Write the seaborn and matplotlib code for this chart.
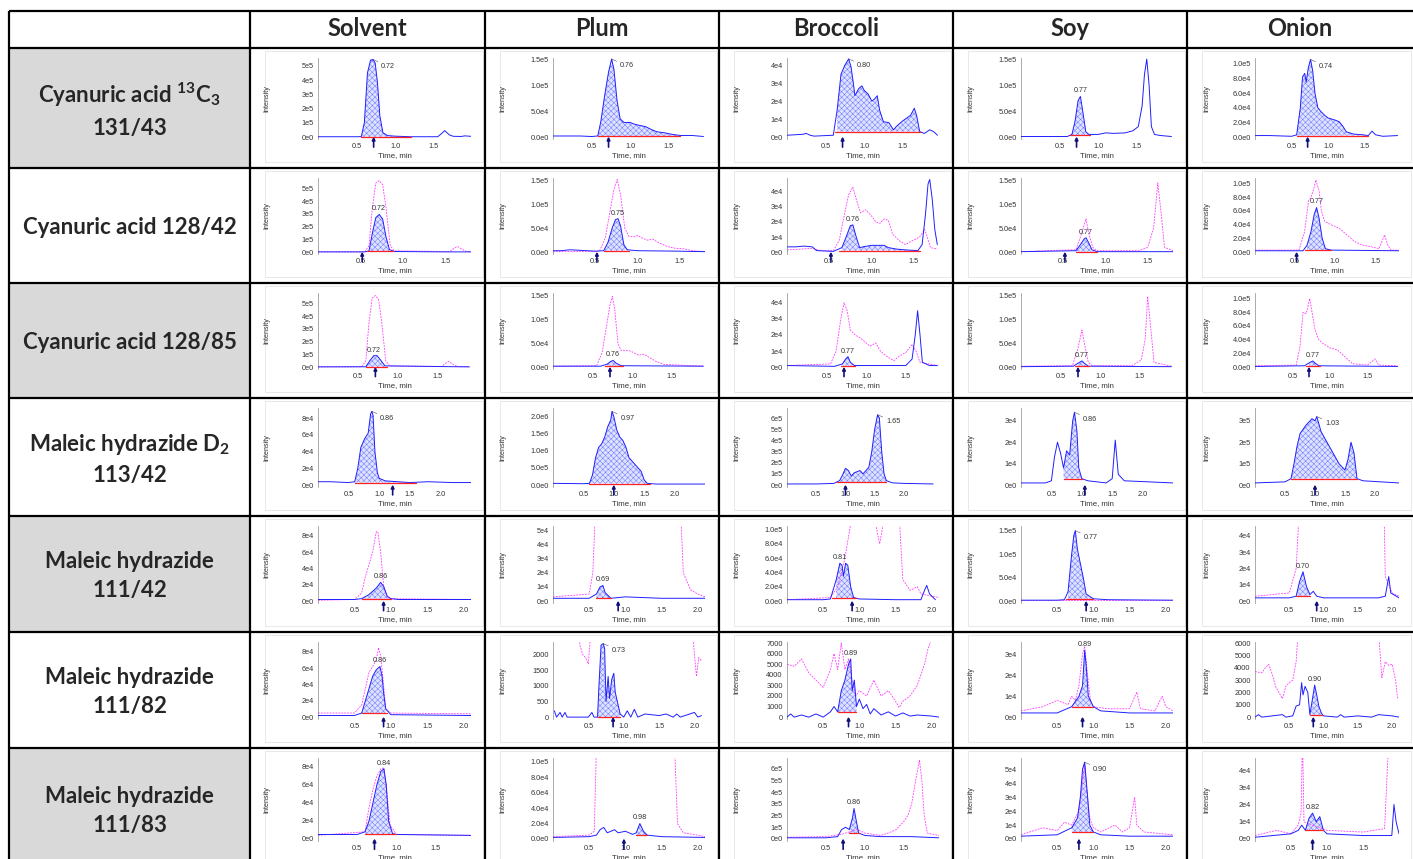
import numpy as np
import pandas as pd
import matplotlib
matplotlib.use("Agg")
import matplotlib.pyplot as plt
import matplotlib.transforms as mtransforms
from matplotlib.patches import Rectangle
import seaborn as sns

sns.set_style("white")
plt.rcParams["font.family"] = ["Liberation Sans", "DejaVu Sans"]
plt.rcParams["mathtext.fontset"] = "custom"
plt.rcParams["mathtext.rm"] = "Lato:bold"
plt.rcParams["mathtext.it"] = "Lato:bold"
plt.rcParams["mathtext.bf"] = "Lato:bold"
plt.rcParams["hatch.linewidth"] = 0.35

W, H = 1413, 859

MATRICES = ["Solvent", "Plum", "Broccoli", "Soy", "Onion"]
COMPOUNDS = [
    "Cyanuric acid $^{13}$C$_3$\n131/43",
    "Cyanuric acid 128/42",
    "Cyanuric acid 128/85",
    "Maleic hydrazide D$_2$\n113/42",
    "Maleic hydrazide\n111/42",
    "Maleic hydrazide\n111/82",
    "Maleic hydrazide\n111/83",
]

# y tick label sets (tick positions are the label values)
E5_5 = ["0e0", "1e5", "2e5", "3e5", "4e5", "5e5"]
E5_15 = ["0.0e0", "5.0e4", "1.0e5", "1.5e5"]
E4_4 = ["0e0", "1e4", "2e4", "3e4", "4e4"]
E4_10 = ["0.0e0", "2.0e4", "4.0e4", "6.0e4", "8.0e4", "1.0e5"]
E4_8 = ["0e0", "2e4", "4e4", "6e4", "8e4"]
E6_2 = ["0.0e0", "5.0e5", "1.0e6", "1.5e6", "2.0e6"]
E5_6 = ["0e0", "1e5", "2e5", "3e5", "4e5", "5e5", "6e5"]
E4_3 = ["0e0", "1e4", "2e4", "3e4"]
E5_3 = ["0e0", "1e5", "2e5", "3e5"]
E4_5 = ["0e0", "1e4", "2e4", "3e4", "4e4", "5e4"]
N2000 = ["0", "500", "1000", "1500", "2000"]
N7000 = ["0", "1000", "2000", "3000", "4000", "5000", "6000", "7000"]
N6000 = ["0", "1000", "2000", "3000", "4000", "5000", "6000"]

YLABELS = [
    [E5_5, E5_15, E4_4, E5_15, E4_10],
    [E5_5, E5_15, E4_4, E5_15, E4_10],
    [E5_5, E5_15, E4_4, E5_15, E4_10],
    [E4_8, E6_2, E5_6, E4_3, E5_3],
    [E4_8, E4_5, E4_10, E5_15, E4_4],
    [E4_8, N2000, N7000, E4_3, N6000],
    [E4_8, E4_10, E5_6, E4_5, E4_4],
]
YTOP = [
    [5.55e5, 1.52e5, 4.4e4, 1.52e5, 1.08e5],
    [5.8e5, 1.55e5, 4.9e4, 1.55e5, 1.08e5],
    [5.8e5, 1.55e5, 4.6e4, 1.55e5, 1.08e5],
    [9.2e4, 2.25e6, 6.9e5, 3.6e4, 3.6e5],
    [9.2e4, 5.3e4, 1.05e5, 1.6e5, 4.6e4],
    [9.2e4, 2400, 7100, 3.6e4, 6100],
    [9.0e4, 1.05e5, 6.9e5, 5.8e4, 4.7e4],
]
# multiplier for the trace values below
UNIT = [
    [1e5, 1e4, 1e4, 1e4, 1e4],
    [1e5, 1e4, 1e4, 1e4, 1e4],
    [1e5, 1e4, 1e4, 1e4, 1e4],
    [1e4, 1e5, 1e5, 1e4, 1e5],
    [1e4, 1e4, 1e4, 1e4, 1e4],
    [1e4, 1, 1, 1e4, 1],
    [1e4, 1e4, 1e5, 1e4, 1e4],
]
XMAX = [
    [1.98, 1.97, 1.97, 1.97, 1.97],
    [1.8, 1.8, 1.8, 1.8, 1.8],
    [1.92, 1.92, 1.92, 1.92, 1.92],
    [2.5, 2.5, 2.6, 2.5, 2.4],
    [2.1, 2.1, 2.1, 2.1, 2.1],
    [2.1, 2.15, 2.1, 2.1, 2.1],
    [1.95, 2.1, 1.95, 2.1, 2.0],
]
# integration window start, end, retention time label, label placement
PEAKS = [
    [(0.56, 1.2, "0.72", "r"), (0.58, 1.65, "0.76", "r"), (0.62, 1.72, "0.80", "r"),
     (0.64, 0.9, "0.77", "u"), (0.57, 1.55, "0.74", "r")],
    [(0.58, 0.88, "0.72", "u"), (0.6, 0.9, "0.75", "u"), (0.62, 1.58, "0.76", "u"),
     (0.65, 0.9, "0.77", "u"), (0.62, 0.95, "0.77", "u")],
    [(0.6, 0.86, "0.72", "u"), (0.66, 0.88, "0.76", "u"), (0.68, 0.86, "0.77", "u"),
     (0.68, 0.86, "0.77", "u"), (0.68, 0.86, "0.77", "u")],
    [(0.6, 1.6, "0.86", "r"), (0.6, 1.6, "0.97", "r"), (0.85, 1.7, "1.65", "r"),
     (0.7, 1.0, "0.86", "r"), (0.6, 1.7, "1.03", "r")],
    [(0.6, 1.0, "0.86", "u"), (0.6, 0.8, "0.69", "u"), (0.62, 0.95, "0.81", "u"),
     (0.62, 1.0, "0.77", "r"), (0.6, 0.8, "0.70", "u")],
    [(0.6, 0.95, "0.86", "u"), (0.63, 0.95, "0.73", "r"), (0.7, 0.96, "0.89", "u"),
     (0.7, 1.0, "0.89", "u"), (0.8, 0.97, "0.90", "u")],
    [(0.6, 1.0, "0.84", "u"), (1.15, 1.3, "0.98", "u"), (0.8, 0.92, "0.86", "u"),
     (0.7, 1.0, "0.90", "r"), (0.7, 0.95, "0.82", "u")],
]
ARROWS = [
    [0.72, 0.72, 0.72, 0.72, 0.72],
    [0.52, 0.52, 0.52, 0.52, 0.52],
    [0.72, 0.72, 0.72, 0.72, 0.72],
    [1.22, 1.0, 1.0, 1.05, 1.0],
    [0.9, 0.9, 0.9, 0.9, 0.9],
    [0.9, 0.85, 0.85, 0.85, 0.85],
    [0.72, 0.98, 0.72, 0.8, 0.8],
]

# ---- traces (time, intensity / UNIT) ----
BLUE_1 = {
    "Solvent": [(0, .02), (.5, .02), (.56, .03), (.6, 1.0), (.64, 4.5), (.68, 5.4), (.71, 5.45), (.74, 5.2),
                (.77, 3.8), (.8, 1.5), (.84, .3), (.9, .1), (1.0, .06), (1.2, .02), (1.55, .02), (1.6, .25),
                (1.64, .45), (1.7, .15), (1.75, .05), (1.85, .04), (1.9, .08), (1.98, .05)],
    "Plum": [(0, .2), (.35, .2), (.5, .1), (.58, .2), (.62, 3), (.67, 8), (.72, 12.5), (.76, 15), (.79, 13),
             (.83, 7), (.87, 3.5), (.92, 2.8), (1.0, 2.8), (1.05, 2.5), (1.1, 2.3), (1.2, 2.0), (1.28, 1.4),
             (1.35, 1.0), (1.45, .8), (1.55, .5), (1.65, .3), (1.8, .3), (1.95, .1)],
    "Broccoli": [(0, .1), (.2, .15), (.25, .2), (.3, .1), (.35, .05), (.6, .1), (.65, 1.5), (.7, 3.5), (.75, 4.0),
                 (.8, 4.35), (.83, 3.9), (.86, 3.0), (.88, 2.3), (.93, 2.7), (.97, 2.85), (1.0, 2.6),
                 (1.05, 2.4), (1.1, 2.0), (1.13, 2.1), (1.17, 2.3), (1.2, 1.5), (1.25, .85), (1.32, .8),
                 (1.38, .4), (1.42, .6), (1.5, .9), (1.6, 1.2), (1.65, 1.6), (1.68, 1.2), (1.72, .3),
                 (1.78, .2), (1.85, .4), (1.9, .3), (1.95, .1)],
    "Soy": [(0, .1), (.6, .1), (.66, .5), (.7, 3), (.74, 7), (.77, 7.8), (.8, 5), (.84, 1), (.88, .5), (1.0, .5),
            (1.1, .8), (1.2, .7), (1.35, .8), (1.45, 1.2), (1.52, 2), (1.57, 6), (1.6, 12), (1.63, 15),
            (1.66, 10), (1.69, 2), (1.73, .5), (1.8, .3), (1.95, .1)],
    "Onion": [(0, .2), (.2, .2), (.5, .1), (.57, .3), (.62, 4), (.65, 8.2), (.68, 8.7), (.7, 7.5), (.73, 9.5),
              (.76, 10.6), (.79, 9), (.82, 6), (.86, 4), (.9, 3.5), (.95, 3), (1.0, 2.6), (1.1, 2.3),
              (1.15, 2.1), (1.2, 1.5), (1.25, .7), (1.35, .4), (1.48, .3), (1.55, .2), (1.6, .8), (1.65, .3),
              (1.75, .1), (1.95, .2)],
}
PINK_1 = {}

BLUE_2 = {
    "Solvent": [(0, .02), (.55, .02), (.6, .1), (.64, 1.5), (.68, 2.7), (.72, 2.95), (.76, 2.6), (.8, 1.2),
                (.84, .2), (.9, .05), (1.5, .02), (1.8, .02)],
    "Plum": [(0, .3), (.1, .3), (.2, .5), (.3, .4), (.5, .2), (.6, .3), (.65, 2), (.7, 5), (.74, 6.8), (.77, 7),
             (.8, 5.5), (.84, 1.5), (.88, .5), (1.0, .3), (1.5, .2), (1.8, .1)],
    "Broccoli": [(0, .35), (.1, .35), (.2, .4), (.3, .35), (.35, .1), (.55, .05), (.65, .3), (.7, 1.0),
                 (.75, 1.75), (.78, 1.8), (.82, 1.0), (.86, .3), (.9, .35), (1.0, .45), (1.1, .45), (1.15, .45),
                 (1.2, .3), (1.3, .2), (1.4, .15), (1.55, .1), (1.6, .5), (1.64, 2.5), (1.67, 4.5), (1.69, 4.8),
                 (1.72, 3.5), (1.75, 1.5), (1.78, .5)],
    "Soy": [(0, .1), (.65, .3), (.7, 1.5), (.75, 2.8), (.77, 3), (.8, 2), (.84, .5), (.9, .1), (1.8, .1)],
    "Onion": [(0, .2), (.6, .2), (.65, 1), (.7, 3), (.74, 5.5), (.77, 6.5), (.8, 5), (.84, 2), (.88, .5),
              (.95, .3), (1.8, .2)],
}
PINK_2 = {
    "Solvent": [(0, .03), (.55, .03), (.6, .5), (.64, 3.5), (.68, 5.4), (.72, 5.6), (.76, 5.3), (.8, 3.5),
                (.85, .5), (.9, .1), (1.55, .05), (1.6, .3), (1.64, .45), (1.7, .2), (1.75, .05), (1.8, .05)],
    "Plum": [(0, .1), (.55, .2), (.62, 3), (.67, 8), (.72, 13), (.76, 15.2), (.8, 12), (.85, 5), (.9, 3.3),
             (.97, 3.2), (1.0, 3.5), (1.05, 3), (1.12, 2.5), (1.18, 2.7), (1.25, 2), (1.35, 1.2), (1.45, .8),
             (1.55, .7), (1.65, .3), (1.8, .1)],
    "Broccoli": [(0, .15), (.3, .25), (.4, .1), (.55, .1), (.62, .8), (.68, 2.5), (.73, 3.8), (.78, 4.3),
                 (.82, 3.5), (.87, 2.6), (.93, 2.8), (1.0, 2.4), (1.05, 2.0), (1.1, 1.9), (1.15, 2.2),
                 (1.2, 2.1), (1.25, 1.2), (1.32, .8), (1.4, .5), (1.5, .8), (1.57, 1.0), (1.63, 1.5),
                 (1.66, 1.0), (1.7, .3), (1.78, .2)],
    "Soy": [(0, .1), (.65, .5), (.72, 4), (.77, 7), (.8, 4), (.85, 1), (.9, .3), (1.4, .3), (1.5, 1), (1.57, 5),
            (1.62, 14.5), (1.66, 8), (1.7, 1), (1.8, .3)],
    "Onion": [(0, .3), (.55, .3), (.62, 3), (.67, 7.5), (.7, 8), (.73, 9), (.76, 10.5), (.8, 9), (.83, 6),
              (.87, 4.5), (.95, 4), (1.05, 3.5), (1.15, 2.5), (1.25, 1.5), (1.35, 1.0), (1.45, .8), (1.55, .5),
              (1.62, 2.5), (1.66, 1), (1.7, .3), (1.8, .3)],
}

BLUE_3 = {
    "Solvent": [(0, .02), (.6, .03), (.65, .5), (.7, .9), (.74, .9), (.78, .6), (.84, .1), (1.9, .02)],
    "Plum": [(0, .2), (.6, .2), (.68, .6), (.73, 1.2), (.76, 1.4), (.8, .8), (.86, .3), (1.9, .2)],
    "Broccoli": [(0, .1), (.6, .05), (.7, .2), (.74, .5), (.77, .65), (.8, .3), (.85, .1), (1.5, .1), (1.58, .5),
                 (1.62, 2), (1.65, 3.5), (1.68, 2), (1.71, .3), (1.8, .1), (1.9, .1)],
    "Soy": [(0, .1), (.66, .2), (.72, .8), (.77, 1.3), (.8, .8), (.85, .2), (1.9, .1)],
    "Onion": [(0, .1), (.66, .2), (.72, .6), (.77, .9), (.8, .6), (.85, .2), (1.9, .1)],
}
PINK_3 = {
    "Solvent": PINK_2["Solvent"] + [(1.9, .05)],
    "Plum": [(0, .2), (.55, .3), (.62, 3), (.68, 9), (.72, 13), (.75, 14.8), (.78, 12), (.82, 5), (.86, 3.5),
             (.95, 3.5), (1.0, 3.2), (1.08, 2.5), (1.15, 2.7), (1.22, 2), (1.3, 1.2), (1.4, .6), (1.5, .5),
             (1.9, .2)],
    "Broccoli": [(0, .1), (.55, .2), (.62, 1), (.68, 3), (.72, 4.0), (.76, 3.5), (.8, 2.3), (.86, 2.0),
                 (.93, 1.8), (1.0, 1.5), (1.05, 1.3), (1.12, 1.5), (1.18, 1.0), (1.25, .7), (1.35, .4),
                 (1.42, .7), (1.5, .9), (1.58, 1.4), (1.63, 1.0), (1.68, .3), (1.9, .1)],
    "Soy": [(0, .2), (.65, .3), (.72, 4), (.77, 7.8), (.8, 5), (.85, 1), (.9, .3), (1.4, .3), (1.52, 1.5),
            (1.57, 6), (1.6, 14.8), (1.64, 8), (1.68, 1), (1.9, .2)],
    "Onion": [(0, .2), (.55, .3), (.6, 3), (.64, 8), (.68, 7.8), (.7, 8.5), (.73, 10), (.76, 8), (.8, 5.5),
              (.85, 4), (.9, 3.5), (1.0, 2.8), (1.1, 2.5), (1.2, 1.5), (1.3, .5), (1.5, .3), (1.6, 1.2),
              (1.65, .3), (1.9, .2)],
}

BLUE_4 = {
    "Solvent": [(0, .4), (.2, .4), (.5, .3), (.6, .4), (.65, 2), (.7, 4.5), (.76, 5.5), (.82, 6.2), (.86, 8.5),
                (.88, 8.8), (.9, 8.3), (.93, 4), (.97, 1.5), (1.0, .8), (1.1, .5), (1.5, .3), (1.8, .4),
                (2.2, .3), (2.5, .3)],
    "Plum": [(0, .5), (.5, .4), (.6, .5), (.65, 3), (.7, 8), (.75, 11), (.8, 12), (.85, 14), (.9, 17), (.95, 19),
             (.97, 21.5), (1.0, 20), (1.05, 16), (1.1, 14), (1.15, 13), (1.2, 11), (1.25, 8), (1.35, 6),
             (1.45, 4), (1.5, 1.5), (1.55, .5), (1.7, .3), (2.5, .3)],
    "Broccoli": [(0, .1), (.5, .1), (.8, .15), (.9, .4), (.95, .9), (1.0, 1.5), (1.05, 1.3), (1.1, .8),
                 (1.15, 1.1), (1.25, 1.3), (1.3, 1.0), (1.4, 1.6), (1.45, 3), (1.5, 5), (1.55, 6.3), (1.58, 6.0),
                 (1.62, 3), (1.66, 1), (1.7, .4), (1.8, .2), (2.0, .15), (2.5, .1)],
    "Soy": [(0, .1), (.4, .1), (.5, .2), (.55, 1.3), (.6, 2.0), (.65, 1.5), (.7, .8), (.75, 1.6), (.8, 1.4),
            (.85, 3.0), (.88, 3.4), (.92, 2.5), (.95, .8), (1.0, .3), (1.1, .2), (1.4, .1), (1.5, .3),
            (1.55, 2.1), (1.6, .5), (1.7, .2), (2.5, .1)],
    "Onion": [(0, .1), (.5, .15), (.6, .3), (.65, 1.0), (.7, 1.8), (.75, 2.4), (.8, 2.6), (.85, 2.8), (.9, 2.95),
              (.95, 3.1), (1.0, 3.0), (1.03, 3.2), (1.06, 2.9), (1.1, 2.5), (1.2, 2.0), (1.3, 1.5), (1.4, 1.0),
              (1.5, .7), (1.55, 1.2), (1.6, 2.0), (1.65, 1.5), (1.7, .3), (1.8, .2), (2.4, .1)],
}
PINK_4 = {}

BLUE_5 = {
    "Solvent": [(0, .2), (.5, .2), (.6, .3), (.7, .8), (.75, 1.2), (.8, 1.6), (.86, 2.3), (.9, 1.8), (.95, .6),
                (1.0, .3), (1.1, .2), (2.1, .2)],
    "Plum": [(0, .2), (.5, .2), (.6, .5), (.65, 1), (.69, 1.1), (.72, .6), (.8, .2), (1.0, .3), (1.5, .2),
             (2.1, .2)],
    "Broccoli": [(0, .2), (.5, .2), (.6, .3), (.68, 3), (.73, 5.3), (.76, 5), (.78, 3.5), (.81, 5.3), (.84, 5),
                 (.88, 2), (.92, .5), (1.0, .3), (1.5, .2), (1.85, .2), (1.9, 1.5), (1.93, 2.2), (1.97, 1),
                 (2.05, .2)],
    "Soy": [(0, .2), (.5, .2), (.6, .3), (.65, 2), (.7, 10), (.73, 14), (.75, 15), (.78, 11), (.82, 8),
            (.86, 5), (.9, 1.5), (1.0, .5), (1.2, .3), (2.1, .2)],
    "Onion": [(0, .2), (.5, .2), (.6, .3), (.65, 1.2), (.7, 1.8), (.75, .9), (.8, .4), (.85, .6), (.9, .3),
              (1.0, .2), (1.8, .2), (1.9, .3), (1.95, 1.5), (1.98, .5), (2.1, .2)],
}
PINK_5 = {
    "Solvent": [(0, .1), (.5, .2), (.6, 1), (.65, 3), (.7, 4.5), (.75, 6), (.8, 8.5), (.82, 8.5), (.86, 6),
                (.9, 2), (.95, .5), (1.0, .3), (2.1, .2)],
    "Plum": [(0, .3), (.5, .5), (.55, 2), (.6, 8), (1.75, 8), (1.8, 2), (1.9, .8), (2.0, .5), (2.1, .3)],
    "Broccoli": [(0, .2), (.6, .5), (.7, 2), (.8, 6), (.85, 9), (.9, 12), (1.2, 12), (1.28, 8), (1.35, 12),
                 (1.55, 12), (1.6, 3), (1.7, 1.5), (1.8, 2), (1.85, 1.0), (2.1, .5)],
    "Soy": [(0, .3), (2.1, .3)],
    "Onion": [(0, .3), (.5, .5), (.6, 2), (.65, 6), (1.88, 6), (1.9, 1.5), (2.0, .5), (2.1, .3)],
}

BLUE_6 = {
    "Solvent": [(0, .2), (.5, .2), (.6, .5), (.65, 2), (.7, 3.5), (.75, 5), (.8, 5.8), (.85, 6.2), (.88, 5.0),
                (.9, 3), (.93, 1), (1.0, .3), (2.1, .2)],
    "Plum": [(.02, 200), (.05, 0), (.1, 150), (.13, 0), (.17, 150), (.2, 0), (.5, 0), (.55, 150), (.58, 0),
             (.63, 0), (.65, 1000), (.68, 2300), (.71, 2350), (.73, 2200), (.75, 500), (.78, 1300), (.8, 600),
             (.83, 1200), (.86, 1400), (.88, 800), (.9, 600), (.95, 100), (1.0, 0), (1.05, 200), (1.1, 0),
             (1.15, 250), (1.2, 0), (1.3, 100), (1.5, 50), (1.6, 100), (1.7, 0), (1.75, 100), (1.8, 0),
             (2.0, 150), (2.05, 0), (2.1, 50)],
    "Broccoli": [(0, 0), (.05, 300), (.1, 0), (.2, 200), (.3, 0), (.4, 300), (.5, 0), (.6, 500), (.65, 1000),
                 (.7, 500), (.75, 2500), (.8, 3500), (.85, 5000), (.88, 5500), (.9, 2500), (.93, 3500),
                 (.96, 1000), (1.0, 1700), (1.05, 800), (1.1, 1200), (1.15, 300), (1.2, 800), (1.3, 200),
                 (1.4, 500), (1.5, 100), (1.6, 400), (1.7, 100), (1.8, 200), (2.0, 100), (2.1, 0)],
    "Soy": [(0, .2), (.5, .2), (.7, .5), (.8, 1.0), (.85, 1.5), (.88, 3.2), (.9, 2.5), (.93, 1), (1.0, .5),
            (1.1, .3), (1.5, .2), (2.1, .2)],
    "Onion": [(0, 0), (.05, 200), (.1, 0), (.4, 200), (.45, 0), (.55, 100), (.6, 900), (.65, 1000), (.68, 2800),
              (.7, 1800), (.73, 2500), (.77, 2000), (.8, 200), (.83, 1200), (.87, 2600), (.9, 1800), (.93, 900),
              (.97, 300), (1.0, 100), (1.2, 0), (1.25, 200), (1.3, 0), (1.5, 100), (1.7, 0), (1.8, 200),
              (2.0, 100), (2.1, 0)],
}
PINK_6 = {
    "Solvent": [(0, .5), (.5, .5), (.6, 1.5), (.65, 3.5), (.7, 5.5), (.75, 6.2), (.8, 7), (.83, 8.5),
                (.86, 7.5), (.9, 4), (.93, 1), (1.0, .5), (2.1, .4)],
    "Plum": [(.35, 3500), (.38, 2300), (.42, 2000), (.46, 1900), (.5, 1700), (.53, 2600), (.56, 3500),
             (1.95, 3500), (2.0, 2000), (2.03, 1300), (2.06, 1900), (2.1, 1800)],
    "Broccoli": [(0, 5000), (.1, 4800), (.2, 5500), (.3, 4200), (.4, 3500), (.5, 2800), (.6, 4500), (.65, 6000),
                 (.7, 4500), (.75, 7000), (.8, 4500), (.85, 5500), (.9, 3500), (.95, 2000), (1.0, 2500),
                 (1.1, 2000), (1.2, 3500), (1.3, 2000), (1.4, 2500), (1.5, 1500), (1.55, 900), (1.6, 1500),
                 (1.7, 2000), (1.8, 3000), (1.9, 5000), (1.95, 6500), (2.0, 7500)],
    "Soy": [(0, .3), (.3, .5), (.5, .8), (.65, .6), (.7, 1.0), (.75, .8), (.8, 1.5), (.85, 3.0), (.88, 3.4),
            (.92, 2), (.96, .8), (1.0, .5), (1.2, .4), (1.5, .4), (1.6, 1.2), (1.65, .4), (1.85, .3),
            (1.95, 1.0), (2.0, .5), (2.1, .3)],
    "Onion": [(0, 3700), (.1, 3600), (.15, 4000), (.2, 4300), (.25, 3500), (.3, 2500), (.35, 2000), (.4, 1500),
              (.45, 2500), (.5, 2800), (.55, 3000), (.6, 4500), (.63, 7000), (1.8, 7000), (1.85, 3200),
              (1.9, 4500), (1.95, 4200), (2.0, 4300), (2.05, 3000), (2.08, 1500)],
}

BLUE_7 = {
    "Solvent": [(0, .5), (.5, .5), (.6, .8), (.65, 2), (.7, 4), (.75, 6), (.8, 7.5), (.84, 7.8), (.87, 6),
                (.9, 2), (.95, .6), (1.0, .5), (1.95, .4)],
    "Plum": [(0, .2), (.5, .3), (.6, .5), (.65, 1.2), (.7, 1.5), (.75, .8), (.8, 1.0), (.85, 1.2), (.9, .8),
             (1.0, 1.0), (1.1, .6), (1.15, .8), (1.2, 2.0), (1.25, 1.0), (1.3, .5), (1.5, .3), (2.1, .2)],
    "Broccoli": [(0, .1), (.5, .1), (.65, .2), (.7, .8), (.75, 1.0), (.8, .8), (.84, 1.8), (.86, 2.6),
                 (.89, 1.5), (.92, .5), (1.0, .3), (1.2, .2), (1.6, .2), (1.95, .1)],
    "Soy": [(0, .2), (.5, .3), (.7, .8), (.78, 1.5), (.82, 3), (.85, 5), (.88, 5.5), (.92, 3), (.95, 1),
            (1.0, .5), (1.1, .3), (1.5, .2), (2.1, .2)],
    "Onion": [(0, .1), (.5, .3), (.6, .5), (.65, .8), (.7, .5), (.75, 1.2), (.8, 1.5), (.85, 1.0), (.9, 1.3),
              (.95, .5), (1.0, .3), (1.5, .2), (1.9, .2), (1.93, 2.0), (1.96, 1.0), (2.0, .3)],
}
PINK_7 = {
    "Solvent": [(0, .4), (.6, .8), (.65, 3.5), (.7, 5.5), (.75, 7), (.8, 7.8), (.84, 7.9), (.88, 5),
                (.92, 1.5), (1.0, .5), (1.95, .4)],
    "Plum": [(0, .3), (.5, .5), (.57, 1), (.6, 12), (1.68, 12), (1.72, 2), (1.8, .8), (2.0, .5), (2.1, .3)],
    "Broccoli": [(0, .15), (.5, .2), (.7, .4), (.8, .6), (.9, .8), (1.0, .5), (1.1, .4), (1.2, .3), (1.3, .5),
                 (1.4, .8), (1.5, 1.5), (1.55, 2), (1.6, 3), (1.65, 5), (1.7, 6.7), (1.73, 5), (1.76, 2),
                 (1.8, .5), (1.95, .3)],
    "Soy": [(0, .3), (.3, .8), (.5, .6), (.6, 1.2), (.7, 1.0), (.8, 2), (.85, 4), (.88, 5.3), (.92, 3),
            (.95, 1.5), (1.0, .8), (1.1, .5), (1.3, 1), (1.4, .5), (1.5, .8), (1.57, 3), (1.6, 1), (1.7, .5),
            (2.1, .3)],
    "Onion": [(0, .2), (.3, .5), (.5, .3), (.6, .8), (.64, 1.5), (.66, 6), (.68, 1.0), (.8, .8), (1.0, .5),
              (1.5, .4), (1.8, .6), (1.86, 6), (2.0, 6)],
}

BLUE = [BLUE_1, BLUE_2, BLUE_3, BLUE_4, BLUE_5, BLUE_6, BLUE_7]
PINK = [PINK_1, PINK_2, PINK_3, PINK_4, PINK_5, PINK_6, PINK_7]

# table grid in pixels
COL_X = [9, 250, 485, 719, 953, 1187, 1425]
ROW_Y = [11, 48, 168, 283, 398, 516, 632, 748, 870]


def px_rect(x0, y0, x1, y1):
    return [x0 / W, 1 - y1 / H, (x1 - x0) / W, (y1 - y0) / H]


def draw_cell(ax, r, c):
    name = MATRICES[c]
    unit = UNIT[r][c]
    ytop = YTOP[r][c]
    xmax = XMAX[r][c]
    blue = pd.DataFrame(BLUE[r][name], columns=["t", "y"])
    blue["y"] *= unit
    t = blue["t"].to_numpy()
    y = blue["y"].to_numpy()

    pink = PINK[r].get(name)
    if pink:
        pdf = pd.DataFrame(pink, columns=["t", "y"])
        pdf["y"] *= unit
        sns.lineplot(data=pdf, x="t", y="y", ax=ax, color="#ff3cff", lw=0.6,
                     linestyle=(0, (2.2, 1.3)), sort=False, estimator=None, zorder=2)

    a, b, lab, pos = PEAKS[r][c]
    m = (t >= a) & (t <= b)
    base = min(np.interp(a, t, y), np.interp(b, t, y), y[m].min())
    ax.fill_between(t, base, y, where=m, facecolor="#dfe2ff", edgecolor="#6a78ff",
                    hatch="xxxxxx", linewidth=0, zorder=1)
    sns.lineplot(data=blue, x="t", y="y", ax=ax, color="#1f1fff", lw=0.7,
                 sort=False, estimator=None, zorder=3)
    ax.plot([a, b], [base, base], color="#ff2020", lw=0.9, zorder=4)

    # apex label
    k = np.argmax(np.where(m, y, -np.inf))
    tp, yp = t[k], y[k]
    if pos == "r":
        ax.annotate(lab, xy=(tp, yp), xytext=(6, -5), textcoords="offset points",
                    fontsize=5.2, color="#333333", ha="left", va="center",
                    arrowprops=dict(arrowstyle="-", color="#555555", lw=0.4,
                                    shrinkA=0, shrinkB=0), zorder=5)
    else:
        ax.annotate(lab, xy=(tp, yp), xytext=(0, 1.5), textcoords="offset points",
                    fontsize=5.2, color="#333333", ha="center", va="bottom", zorder=5)

    # expected retention time arrow
    trans = mtransforms.blended_transform_factory(ax.transData, ax.transAxes)
    ax.annotate("", xy=(ARROWS[r][c], 0.03), xycoords=trans,
                xytext=(ARROWS[r][c], -0.1), textcoords=trans, annotation_clip=False,
                arrowprops=dict(arrowstyle="-|>", color="#10107a", lw=1.2,
                                mutation_scale=4.5, shrinkA=0, shrinkB=0))

    ax.set_xlim(0, xmax)
    ax.set_ylim(-0.025 * ytop, ytop)
    xt = [v for v in (0.5, 1.0, 1.5, 2.0) if v < xmax - 0.05]
    ax.set_xticks(xt)
    ax.set_xticklabels([f"{v:.1f}" for v in xt])
    labels = YLABELS[r][c]
    ax.set_yticks([float(s) for s in labels])
    ax.set_yticklabels(labels)
    ax.tick_params(axis="both", labelsize=5.3, colors="#333333", length=1.5, width=0.4, pad=1.5)
    ax.set_xlabel("Time, min", fontsize=5.6, color="#333333", labelpad=1)
    ax.set_ylabel("Intensity", fontsize=5.2, color="#333333")
    ax.yaxis.set_label_coords(-0.31, 0.5)
    for s in ("top", "right", "bottom"):
        ax.spines[s].set_visible(False)
    ax.spines["left"].set_color("#888888")
    ax.spines["left"].set_linewidth(0.5)
    ax.patch.set_alpha(0)


fig = plt.figure(figsize=(W / 100, H / 100), dpi=100)
bg = fig.add_axes([0, 0, 1, 1])
bg.set_xlim(0, W)
bg.set_ylim(H, 0)
bg.axis("off")

for i in range(len(COMPOUNDS)):
    y0, y1 = ROW_Y[i + 1], ROW_Y[i + 2]
    if i % 2 == 0:
        bg.add_patch(Rectangle((COL_X[0], y0), COL_X[1] - COL_X[0], y1 - y0,
                               facecolor="#d9d9d9", edgecolor="none", zorder=0))
    bg.text((COL_X[0] + COL_X[1]) / 2, (y0 + y1) / 2 + 2, COMPOUNDS[i], ha="center", va="center",
            fontsize=16, fontweight="bold", family=["Lato", "DejaVu Sans"], linespacing=1.5)
    for c in range(5):
        x0, x1 = COL_X[c + 1], COL_X[c + 2] if c < 4 else 1413
        bg.add_patch(Rectangle((x0 + 15, y0 + 3), x1 - x0 - 17, y1 - y0 - 9,
                               facecolor="white", edgecolor="#e4e4e4", lw=0.6, zorder=0))

for c, name in enumerate(MATRICES):
    bg.text((COL_X[c + 1] + COL_X[c + 2]) / 2 if c < 4 else 1300, 29, name, ha="center", va="center",
            fontsize=17, fontweight="bold", family=["Lato", "DejaVu Sans"])

for yv in ROW_Y:
    bg.plot([COL_X[0], W], [yv, yv], color="black", lw=1.6, zorder=6, solid_capstyle="butt")
for xv in COL_X:
    bg.plot([xv, xv], [ROW_Y[0], ROW_Y[-1]], color="black", lw=1.6, zorder=6, solid_capstyle="butt")

for r in range(len(COMPOUNDS)):
    y0, y1 = ROW_Y[r + 1], ROW_Y[r + 2]
    for c in range(5):
        x0 = COL_X[c + 1]
        x1 = COL_X[c + 2] if c < 4 else 1413
        ax = fig.add_axes(px_rect(x0 + 68, y0 + 10, x1 - 14, y1 - 29))
        draw_cell(ax, r, c)

fig.savefig("out.png", dpi=100)
